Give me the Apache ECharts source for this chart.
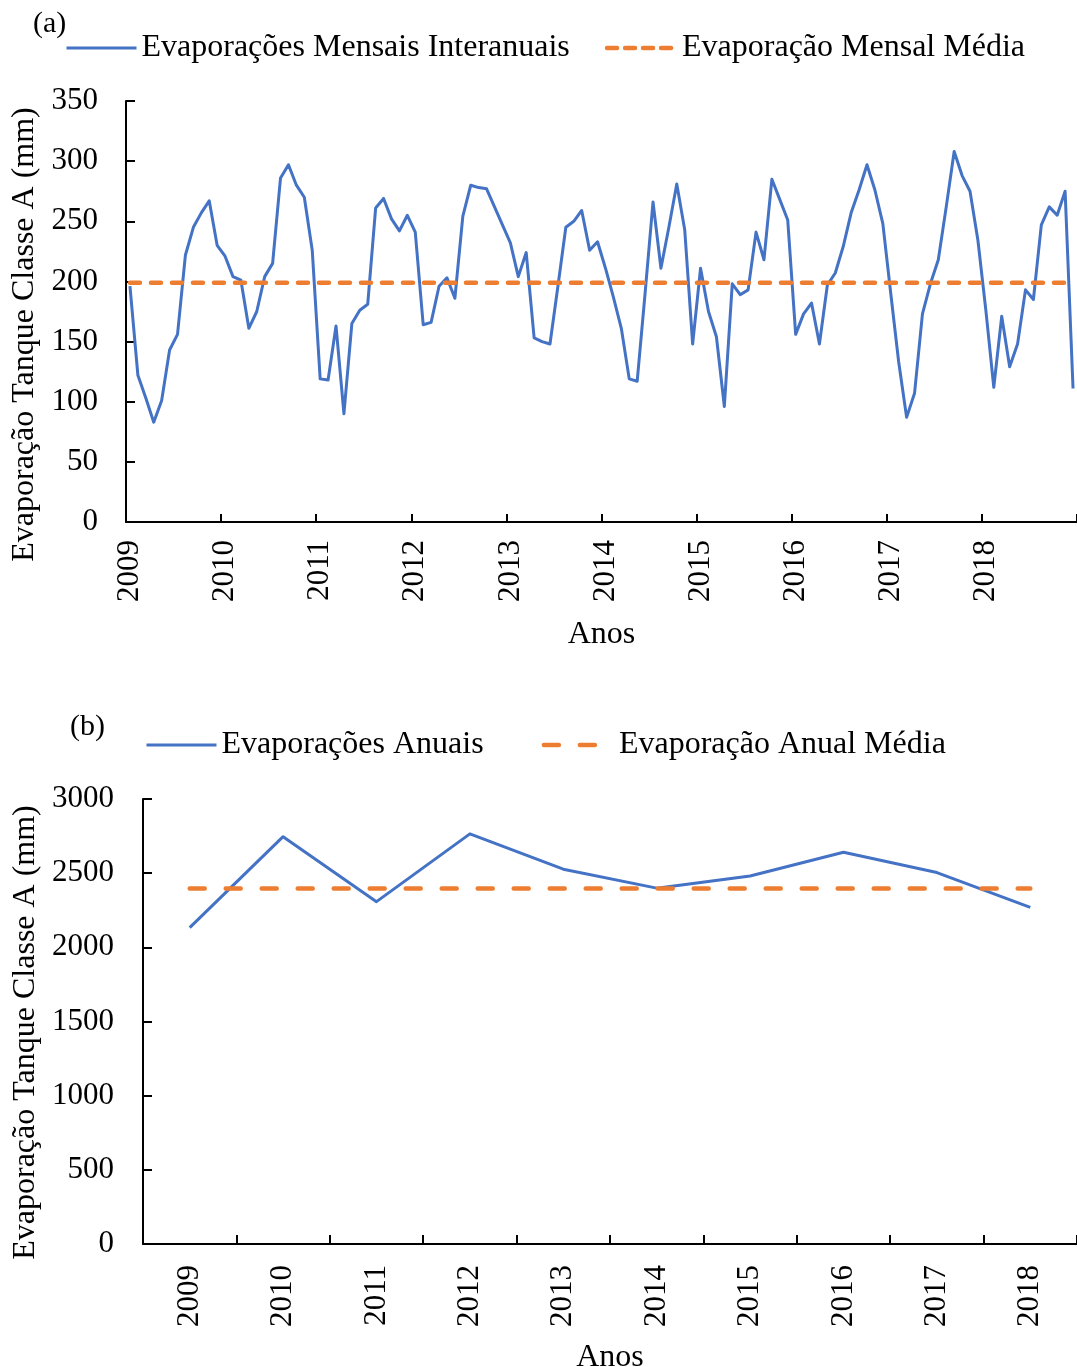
<!DOCTYPE html>
<html><head><meta charset="utf-8">
<script src="https://cdn.jsdelivr.net/npm/echarts@6/dist/echarts.min.js"></script>
<style>html,body{margin:0;padding:0;background:#fff}#c{width:1077px;height:1367px}</style>
</head><body><div id="c"></div>
<script>
// ---- data ----
const years = ['2009','2010','2011','2012','2013','2014','2015','2016','2017','2018'];
const evap2009 = [196, 122, 103, 83, 101, 143, 156, 222, 245, 257, 267, 230];
const evap2010 = [221, 204, 201, 161, 175, 204, 215, 286, 297, 280, 270, 226];
const evap2011 = [119, 118, 163, 90, 165, 176, 181, 261, 269, 252, 242, 255];
const evap2012 = [241, 164, 166, 196, 203, 186, 254, 280, 278, 277, 262, 247];
const evap2013 = [232, 204, 224, 153, 150, 148, 196, 245, 250, 259, 226, 233];
const evap2014 = [211, 187, 161, 119, 117, 190, 266, 211, 245, 281, 243, 148];
const evap2015 = [211, 175, 154, 96, 198, 189, 193, 241, 218, 285, 268, 251];
const evap2016 = [156, 173, 182, 148, 197, 207, 229, 257, 276, 297, 276, 248];
const evap2017 = [190, 133, 87, 107, 173, 198, 218, 262, 308, 288, 275, 234];
const evap2018 = [176, 112, 171, 129, 148, 193, 185, 247, 262, 255, 275, 111];
const monthlyMean = 199;
const annualValues = [2133, 2746, 2308, 2765, 2527, 2399, 2481, 2641, 2504, 2270];
const annualMean = 2396;
const yTicksMonthly = {min: 0, max: 350, interval: 50};
const yTicksAnnual = {min: 0, max: 3000, interval: 500};

// ---- build ----
const monthlyValues = [].concat(evap2009, evap2010, evap2011, evap2012, evap2013,
  evap2014, evap2015, evap2016, evap2017, evap2018);
const monthCats = [];
years.forEach(y => { for (let m = 1; m <= 12; m++) monthCats.push(y + '-' + String(m).padStart(2, '0')); });
const monthlyMeanLine = monthlyValues.map(() => monthlyMean);
const annualMeanLine = annualValues.map(() => annualMean);

const FONT = '"Liberation Serif", "Times New Roman", serif';
const BLUE = '#4472C4', ORANGE = '#ED7D31';
const axisLine = {show: true, lineStyle: {color: '#000', width: 2}};
const txt = (size) => ({fontFamily: FONT, fontSize: size, color: '#000', fontWeight: 'normal'});

const chart = echarts.init(document.getElementById('c'), null, {renderer: 'canvas'});
chart.setOption({
  animation: false,
  backgroundColor: '#fff',
  textStyle: {fontFamily: FONT, color: '#000'},
  title: [
    {text: '(a)', left: 28, top: 4, textStyle: txt(30)},
    {text: '(b)', left: 65, top: 707, textStyle: txt(30)}
  ],
  legend: [
    {data: [
       {name: 'Evaporações Mensais Interanuais', lineStyle: {width: 3}},
       {name: 'Evaporação Mensal Média', lineStyle: {width: 4.5, type: [10, 8], cap: 'round'}}],
     left: 60, top: 27, itemWidth: 70, itemHeight: 14, itemGap: 35,
     itemStyle: {opacity: 0}, textStyle: txt(32)},
    {data: [
       {name: 'Evaporações Anuais', lineStyle: {width: 3}},
       {name: 'Evaporação Anual Média', lineStyle: {width: 4.5, type: [15, 21], cap: 'round'}}],
     left: 140, top: 724, itemWidth: 70, itemHeight: 14, itemGap: 58,
     itemStyle: {opacity: 0}, textStyle: txt(32)}
  ],
  grid: [
    {left: 126, right: 0, top: 101, height: 421, outerBoundsMode: 'none', containLabel: false},
    {left: 143, right: 0, top: 799, height: 445, outerBoundsMode: 'none', containLabel: false}
  ],
  xAxis: [
    {type: 'category', gridIndex: 0, data: monthCats, boundaryGap: true,
     axisLine: axisLine,
     axisTick: {show: true, inside: true, length: 8, interval: 11, lineStyle: {color: '#000', width: 2}},
     axisLabel: Object.assign({interval: 11, rotate: 90, margin: 18, formatter: v => v.slice(0, 4)}, txt(31)),
     splitLine: {show: false},
     name: 'Anos', nameLocation: 'middle', nameGap: 97, nameTextStyle: txt(32)},
    {type: 'category', gridIndex: 1, data: years, boundaryGap: true,
     axisLine: axisLine,
     axisTick: {show: true, inside: true, length: 9, lineStyle: {color: '#000', width: 2}},
     axisLabel: Object.assign({interval: 0, rotate: 90, margin: 21}, txt(31)),
     splitLine: {show: false},
     name: 'Anos', nameLocation: 'middle', nameGap: 98, nameTextStyle: txt(32)}
  ],
  yAxis: [
    {type: 'value', gridIndex: 0, min: yTicksMonthly.min, max: yTicksMonthly.max, interval: yTicksMonthly.interval,
     axisLine: axisLine,
     axisTick: {show: true, inside: true, length: 9, lineStyle: {color: '#000', width: 2}},
     axisLabel: Object.assign({margin: 28, formatter: v => String(v)}, txt(31)),
     splitLine: {show: false},
     name: 'Evaporação Tanque Classe A (mm)', nameLocation: 'middle', nameGap: 80,
     nameTextStyle: Object.assign({padding: [0, 46, 0, 0]}, txt(32))},
    {type: 'value', gridIndex: 1, min: yTicksAnnual.min, max: yTicksAnnual.max, interval: yTicksAnnual.interval,
     axisLine: axisLine,
     axisTick: {show: true, inside: true, length: 9, lineStyle: {color: '#000', width: 2}},
     axisLabel: Object.assign({margin: 29, formatter: v => String(v)}, txt(31)),
     splitLine: {show: false},
     name: 'Evaporação Tanque Classe A (mm)', nameLocation: 'middle', nameGap: 97,
     nameTextStyle: Object.assign({padding: [0, 22, 0, 0]}, txt(32))}
  ],
  series: [
    {name: 'Evaporações Mensais Interanuais', type: 'line', xAxisIndex: 0, yAxisIndex: 0,
     data: monthlyValues, symbol: 'none', color: BLUE,
     lineStyle: {color: BLUE, width: 3, join: 'round'}, z: 3},
    {name: 'Evaporação Mensal Média', type: 'line', xAxisIndex: 0, yAxisIndex: 0,
     data: monthlyMeanLine, symbol: 'none', color: ORANGE,
     lineStyle: {color: ORANGE, width: 4.5, type: [10, 11], cap: 'round'}, z: 4},
    {name: 'Evaporações Anuais', type: 'line', xAxisIndex: 1, yAxisIndex: 1,
     data: annualValues, symbol: 'none', color: BLUE,
     lineStyle: {color: BLUE, width: 3, join: 'round'}, z: 3},
    {name: 'Evaporação Anual Média', type: 'line', xAxisIndex: 1, yAxisIndex: 1,
     data: annualMeanLine, symbol: 'none', color: ORANGE,
     lineStyle: {color: ORANGE, width: 4.5, type: [15, 21], cap: 'round'}, z: 4}
  ]
});
</script></body></html>
